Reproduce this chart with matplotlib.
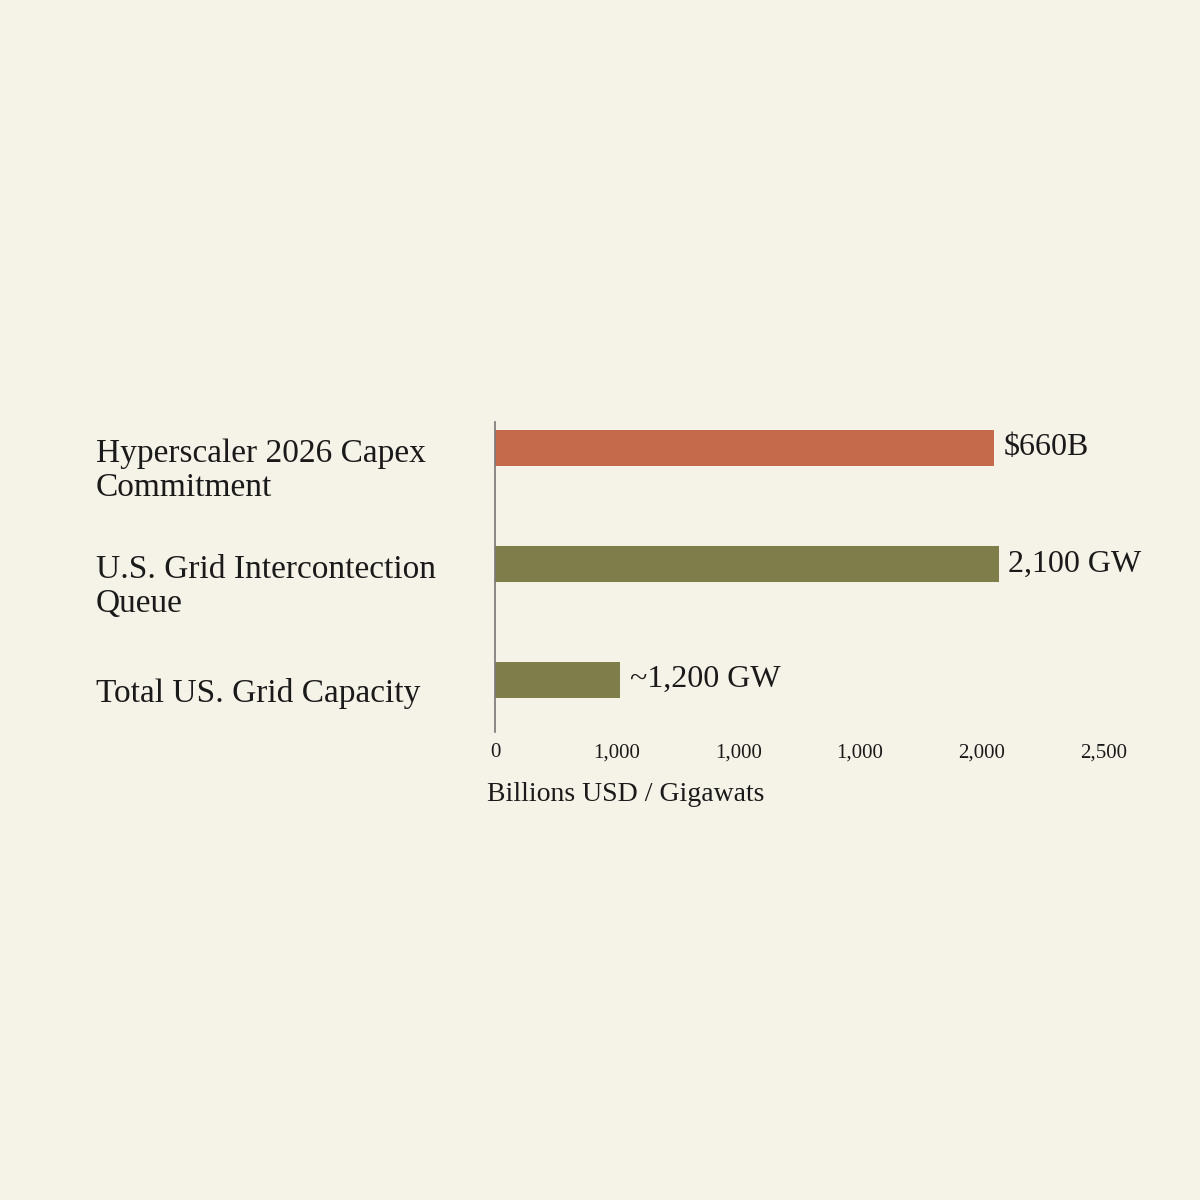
import matplotlib.pyplot as plt
import matplotlib.transforms as mtransforms

categories = ["Hyperscaler 2026 Capex\nCommitment", "U.S. Grid Intercontection\nQueue", "Total US. Grid Capacity"]
bar_lengths = [2050, 2070, 515]
value_labels = ["$660B", "2,100 GW", "~1,200 GW"]
colors = ["#c56b4c", "#7f7d4a", "#7f7d4a"]
tick_values = [0, 500, 1000, 1500, 2000, 2500]
tick_labels = ["0", "1,000", "1,000", "1,000", "2,000", "2,500"]

bg = "#f5f2e7"
plt.rcParams["font.family"] = ["Liberation Serif", "DejaVu Serif"]

fig = plt.figure(figsize=(12, 12), dpi=100, facecolor=bg)
ax = fig.add_axes([0.4125, 0.39, 0.507, 0.258], facecolor=bg)

ypos = list(range(len(categories)))
ax.barh(ypos, bar_lengths, height=0.31, color=colors)
for y, v, lab in zip(ypos, bar_lengths, value_labels):
    ax.text(v + 40, y, lab, va="center", ha="left", fontsize=23, color="#1a1a1a")

# category labels, left-aligned at a fixed figure x
trans = mtransforms.blended_transform_factory(fig.transFigure, ax.transData)
for y, cat in zip(ypos, categories):
    off = 0.2 if "\n" in cat else 0.12
    ax.text(0.08, y + off, cat, transform=trans, ha="left", va="center",
            fontsize=24, color="#1a1a1a", linespacing=1.15)

ax.set_ylim(2.45, -0.22)
ax.set_xlim(0, 2500)
ax.set_yticks([])
ax.set_xticks(tick_values)
ax.set_xticklabels(tick_labels, fontsize=15, color="#1a1a1a")
ax.tick_params(axis="x", length=0, pad=8)
ax.set_xlabel("Billions USD / Gigawats", fontsize=20, color="#1a1a1a")
ax.xaxis.set_label_coords(0.215, -0.16)

for s in ["top", "right", "bottom"]:
    ax.spines[s].set_visible(False)
ax.spines["left"].set_color("#777777")
ax.spines["left"].set_linewidth(1.2)

fig.savefig("out.png", dpi=100, facecolor=bg)
